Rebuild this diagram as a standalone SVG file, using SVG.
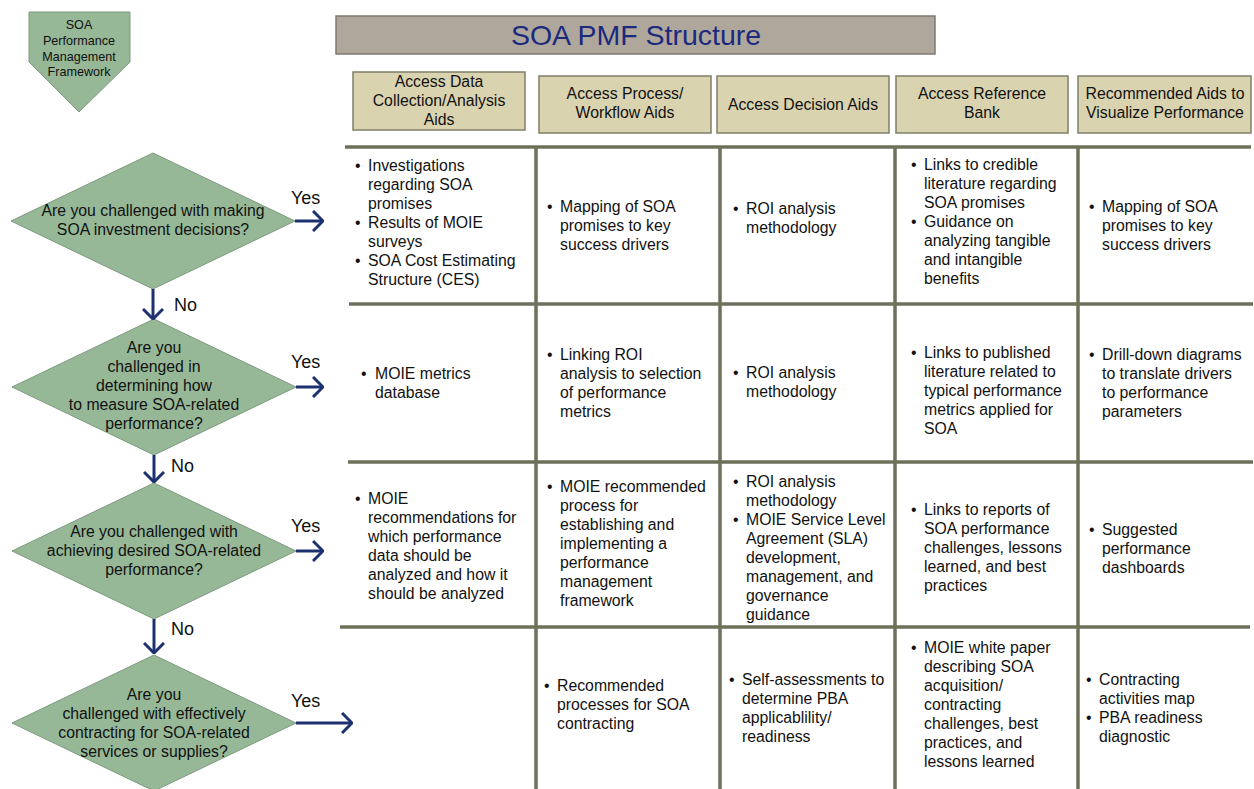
<svg xmlns="http://www.w3.org/2000/svg" width="1254" height="789" viewBox="0 0 1254 789">
<style>
text{font-family:"Liberation Sans",Arial,sans-serif;fill:#111}
.dia{fill:#96b897;stroke:#7e9a80;stroke-width:1}
.hdr{fill:#dad3b0;stroke:#7f7f68;stroke-width:1.5}
.ttl{fill:#b0a79c;stroke:#7f7a70;stroke-width:1.5}
.grid{stroke:#6e705a;stroke-width:3.5;fill:none}
.arr{stroke:#1c3170;stroke-width:3;fill:none;marker-end:url(#chev)}
.q{font-size:15.8px;text-anchor:middle}
.h{font-size:15.8px;text-anchor:middle}
.c{font-size:15.8px}
.yn{font-size:18px}
.pt{font-size:12.6px;text-anchor:middle}
</style>
<defs>
<marker id="chev" viewBox="0 0 12 22" refX="11" refY="11" markerWidth="12" markerHeight="22" markerUnits="userSpaceOnUse" orient="auto">
<path d="M1,1 L11,11 L1,21" fill="none" stroke="#1c3170" stroke-width="3"/>
</marker>
</defs>
<rect width="1254" height="789" fill="#fff"/>

<g id="pmf">
<polygon class="dia" points="29,12 130,12 130,62 79,112 29,62"/>
<text class="pt" x="79" y="29">SOA</text>
<text class="pt" x="79" y="45">Performance</text>
<text class="pt" x="79" y="61">Management</text>
<text class="pt" x="79" y="76">Framework</text>
</g>

<g id="title">
<rect class="ttl" x="336" y="16" width="599" height="38"/>
<text x="636" y="45" style="font-size:28.5px;text-anchor:middle;fill:#1b2a7e">SOA PMF Structure</text>
</g>

<g id="h1"><rect class="hdr" x="353" y="72" width="172" height="58"/>
<text class="h" x="439" y="87">Access Data</text><text class="h" x="439" y="106">Collection/Analysis</text><text class="h" x="439" y="125">Aids</text></g>
<g id="h2"><rect class="hdr" x="539" y="76" width="172" height="57"/>
<text class="h" x="625" y="99">Access Process/</text><text class="h" x="625" y="118">Workflow Aids</text></g>
<g id="h3"><rect class="hdr" x="717" y="76" width="172" height="57"/>
<text class="h" x="803" y="110">Access Decision Aids</text></g>
<g id="h4"><rect class="hdr" x="896" y="76" width="172" height="57"/>
<text class="h" x="982" y="99">Access Reference</text><text class="h" x="982" y="118">Bank</text></g>
<g id="h5"><rect class="hdr" x="1078" y="76" width="173" height="57"/>
<text class="h" x="1165" y="99">Recommended Aids to</text><text class="h" x="1165" y="118">Visualize Performance</text></g>

<g id="grid" class="grid">
<line x1="345" y1="147" x2="1251" y2="147"/>
<line x1="349" y1="304" x2="1253" y2="304"/>
<line x1="348" y1="462" x2="1253" y2="462"/>
<line x1="340" y1="627" x2="1250" y2="627"/>
<line x1="536" y1="147" x2="536" y2="789"/>
<line x1="720" y1="147" x2="720" y2="789"/>
<line x1="895" y1="147" x2="895" y2="789"/>
<line x1="1078" y1="147" x2="1078" y2="789"/>
</g>

<g id="d1"><polygon class="dia" points="11,221 153,153 295,221 153,289"/>
<text class="q" x="153" y="216">Are you challenged with making</text>
<text class="q" x="153" y="235">SOA investment decisions?</text></g>
<g id="d2"><polygon class="dia" points="12,387 154,319 296,387 154,455"/>
<text class="q" x="154" y="353">Are you</text>
<text class="q" x="154" y="372">challenged in</text>
<text class="q" x="154" y="391">determining how</text>
<text class="q" x="154" y="410">to measure SOA-related</text>
<text class="q" x="154" y="429">performance?</text></g>
<g id="d3"><polygon class="dia" points="12,551 154,483 296,551 154,619"/>
<text class="q" x="154" y="537">Are you challenged with</text>
<text class="q" x="154" y="556">achieving desired SOA-related</text>
<text class="q" x="154" y="575">performance?</text></g>
<g id="d4"><polygon class="dia" points="12,723 154,655 296,723 154,791"/>
<text class="q" x="154" y="700">Are you</text>
<text class="q" x="154" y="719">challenged with effectively</text>
<text class="q" x="154" y="738">contracting for SOA-related</text>
<text class="q" x="154" y="757">services or supplies?</text></g>

<g id="connectors">
<line class="arr" x1="295" y1="221" x2="323" y2="221"/>
<line class="arr" x1="296" y1="387" x2="323" y2="387"/>
<line class="arr" x1="296" y1="551" x2="323" y2="551"/>
<line class="arr" x1="296" y1="723" x2="352" y2="723"/>
<line class="arr" x1="153" y1="289" x2="153" y2="319"/>
<line class="arr" x1="154" y1="455" x2="154" y2="482"/>
<line class="arr" x1="154" y1="619" x2="154" y2="653"/>
<text class="yn" x="291" y="204">Yes</text>
<text class="yn" x="291" y="368">Yes</text>
<text class="yn" x="291" y="532">Yes</text>
<text class="yn" x="291" y="707">Yes</text>
<text class="yn" x="174" y="311">No</text>
<text class="yn" x="171" y="472">No</text>
<text class="yn" x="171" y="635">No</text>
</g>

<g id="r1c1" class="c">
<text x="355" y="171">•</text><text x="368" y="171">Investigations</text>
<text x="368" y="190">regarding SOA</text>
<text x="368" y="209">promises</text>
<text x="355" y="228">•</text><text x="368" y="228">Results of MOIE</text>
<text x="368" y="247">surveys</text>
<text x="355" y="266">•</text><text x="368" y="266">SOA Cost Estimating</text>
<text x="368" y="285">Structure (CES)</text>
</g>
<g id="r1c2" class="c">
<text x="547" y="212">•</text><text x="560" y="212">Mapping of SOA</text>
<text x="560" y="231">promises to key</text>
<text x="560" y="250">success drivers</text>
</g>
<g id="r1c3" class="c">
<text x="733" y="214">•</text><text x="746" y="214">ROI analysis</text>
<text x="746" y="233">methodology</text>
</g>
<g id="r1c4" class="c">
<text x="911" y="170">•</text><text x="924" y="170">Links to credible</text>
<text x="924" y="189">literature regarding</text>
<text x="924" y="208">SOA promises</text>
<text x="911" y="227">•</text><text x="924" y="227">Guidance on</text>
<text x="924" y="246">analyzing tangible</text>
<text x="924" y="265">and intangible</text>
<text x="924" y="284">benefits</text>
</g>
<g id="r1c5" class="c">
<text x="1089" y="212">•</text><text x="1102" y="212">Mapping of SOA</text>
<text x="1102" y="231">promises to key</text>
<text x="1102" y="250">success drivers</text>
</g>

<g id="r2c1" class="c">
<text x="361" y="379">•</text><text x="375" y="379">MOIE metrics</text>
<text x="375" y="398">database</text>
</g>
<g id="r2c2" class="c">
<text x="547" y="360">•</text><text x="560" y="360">Linking ROI</text>
<text x="560" y="379">analysis to selection</text>
<text x="560" y="398">of performance</text>
<text x="560" y="417">metrics</text>
</g>
<g id="r2c3" class="c">
<text x="733" y="378">•</text><text x="746" y="378">ROI analysis</text>
<text x="746" y="397">methodology</text>
</g>
<g id="r2c4" class="c">
<text x="911" y="358">•</text><text x="924" y="358">Links to published</text>
<text x="924" y="377">literature related to</text>
<text x="924" y="396">typical performance</text>
<text x="924" y="415">metrics applied for</text>
<text x="924" y="434">SOA</text>
</g>
<g id="r2c5" class="c">
<text x="1089" y="360">•</text><text x="1102" y="360">Drill-down diagrams</text>
<text x="1102" y="379">to translate drivers</text>
<text x="1102" y="398">to performance</text>
<text x="1102" y="417">parameters</text>
</g>

<g id="r3c1" class="c">
<text x="355" y="504">•</text><text x="368" y="504">MOIE</text>
<text x="368" y="523">recommendations for</text>
<text x="368" y="542">which performance</text>
<text x="368" y="561">data should be</text>
<text x="368" y="580">analyzed and how it</text>
<text x="368" y="599">should be analyzed</text>
</g>
<g id="r3c2" class="c">
<text x="547" y="492">•</text><text x="560" y="492">MOIE recommended</text>
<text x="560" y="511">process for</text>
<text x="560" y="530">establishing and</text>
<text x="560" y="549">implementing a</text>
<text x="560" y="568">performance</text>
<text x="560" y="587">management</text>
<text x="560" y="606">framework</text>
</g>
<g id="r3c3" class="c">
<text x="733" y="487">•</text><text x="746" y="487">ROI analysis</text>
<text x="746" y="506">methodology</text>
<text x="733" y="525">•</text><text x="746" y="525">MOIE Service Level</text>
<text x="746" y="544">Agreement (SLA)</text>
<text x="746" y="563">development,</text>
<text x="746" y="582">management, and</text>
<text x="746" y="601">governance</text>
<text x="746" y="620">guidance</text>
</g>
<g id="r3c4" class="c">
<text x="911" y="515">•</text><text x="924" y="515">Links to reports of</text>
<text x="924" y="534">SOA performance</text>
<text x="924" y="553">challenges, lessons</text>
<text x="924" y="572">learned, and best</text>
<text x="924" y="591">practices</text>
</g>
<g id="r3c5" class="c">
<text x="1089" y="535">•</text><text x="1102" y="535">Suggested</text>
<text x="1102" y="554">performance</text>
<text x="1102" y="573">dashboards</text>
</g>

<g id="r4c2" class="c">
<text x="544" y="691">•</text><text x="557" y="691">Recommended</text>
<text x="557" y="710">processes for SOA</text>
<text x="557" y="729">contracting</text>
</g>
<g id="r4c3" class="c">
<text x="729" y="685">•</text><text x="742" y="685">Self-assessments to</text>
<text x="742" y="704">determine PBA</text>
<text x="742" y="723">applicablility/</text>
<text x="742" y="742">readiness</text>
</g>
<g id="r4c4" class="c">
<text x="911" y="653">•</text><text x="924" y="653">MOIE white paper</text>
<text x="924" y="672">describing SOA</text>
<text x="924" y="691">acquisition/</text>
<text x="924" y="710">contracting</text>
<text x="924" y="729">challenges, best</text>
<text x="924" y="748">practices, and</text>
<text x="924" y="767">lessons learned</text>
</g>
<g id="r4c5" class="c">
<text x="1086" y="685">•</text><text x="1099" y="685">Contracting</text>
<text x="1099" y="704">activities map</text>
<text x="1086" y="723">•</text><text x="1099" y="723">PBA readiness</text>
<text x="1099" y="742">diagnostic</text>
</g>
</svg>
